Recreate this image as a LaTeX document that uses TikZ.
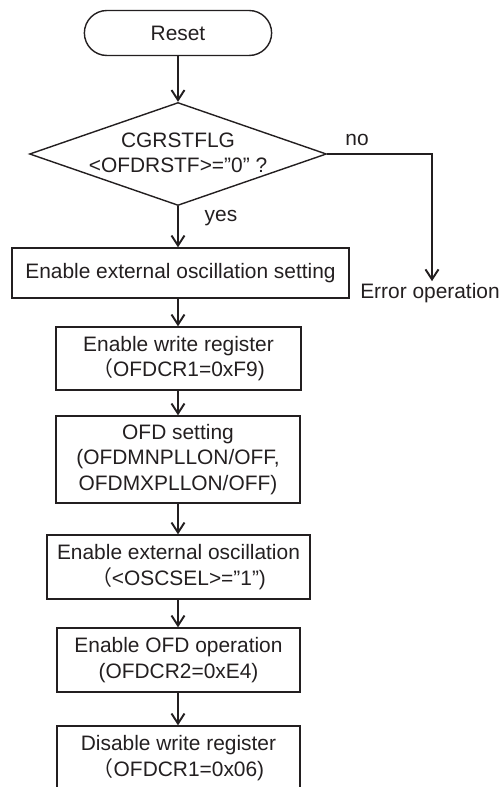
\documentclass[tikz,border=0pt]{standalone}
\usepackage{fontspec}
\setmainfont{Liberation Sans}
\newfontfamily\cjk{Noto Sans CJK JP}
\usepackage{xcolor}
\usepackage{tikz}
\usetikzlibrary{shapes.geometric, shapes.misc, arrows.meta, positioning}
\definecolor{cInk}{HTML}{231F20}

\begin{document}
\begin{tikzpicture}[
  x=0.02cm, y=-0.02cm,
  every node/.style={font=\fontsize{11.9}{14.5}\selectfont, text=cInk},
  term/.style={draw=cInk, line width=0.8pt, rounded rectangle, minimum width=3.98cm, minimum height=0.9cm},
  dec/.style={draw=cInk, line width=0.8pt, diamond, inner sep=0pt, minimum width=5.94cm, minimum height=2.06cm},
  proc/.style={draw=cInk, line width=0.8pt, align=center, inner sep=2pt, minimum height=1.28cm},
  ar/.style={-{Straight Barb[length=2mm, width=2.6mm]}, line width=1.1pt, draw=cInk}
]
\useasboundingbox (0,0) rectangle (500,787);
\clip (0,0) rectangle (500,787);

% Start and check
\node[term] (reset) at (178,33) {Reset};
\node[dec] (check) at (178,154) {};
\node[align=center] (checktxt) at (178,153) {CGRSTFLG\\<OFDRSTF>=”0” ?};

% Main column
\node[proc, minimum width=6.74cm, minimum height=1.0cm] (extset) at (180.5,273) {Enable external oscillation setting};
\node[proc, minimum width=4.9cm, minimum height=1.26cm] (wren) at (178.5,358.5) {Enable write register\\{\cjk （}OFDCR1=0xF9)};
\node[proc, minimum width=4.88cm, minimum height=1.74cm] (ofd) at (178,459.5) {OFD setting\\(OFDMNPLLON/OFF,\\OFDMXPLLON/OFF)};
\node[proc, minimum width=5.26cm] (extosc) at (178.5,567) {Enable external oscillation\\{\cjk （}<OSCSEL>=”1”)};
\node[proc, minimum width=4.86cm] (ofdop) at (178.5,660) {Enable OFD operation\\(OFDCR2=0xE4)};
\node[proc, minimum width=4.86cm] (wrdis) at (178.5,758) {Disable write register\\{\cjk （}OFDCR1=0x06)};

% Error branch
\node[inner sep=1pt] (err) at (430,293) {Error operation};
\coordinate (ncorner) at (432,154);

\draw[ar] (reset) -- (check);
\draw[ar] (check.south) -- (check.south |- extset.north);
\draw[ar] (extset.south -| check) -- (wren.north -| check);
\draw[ar] (wren.south -| check) -- (ofd.north -| check);
\draw[ar] (ofd.south -| check) -- (extosc.north -| check);
\draw[ar] (extosc.south -| check) -- (ofdop.north -| check);
\draw[ar] (ofdop.south -| check) -- (wrdis.north -| check);
\draw[ar] (check.east) -- (ncorner) -- (ncorner |- err.north);

% Branch labels
\node (no) at (357,140) {no};
\node (yes) at (221,218) {yes};
\end{tikzpicture}
\end{document}
